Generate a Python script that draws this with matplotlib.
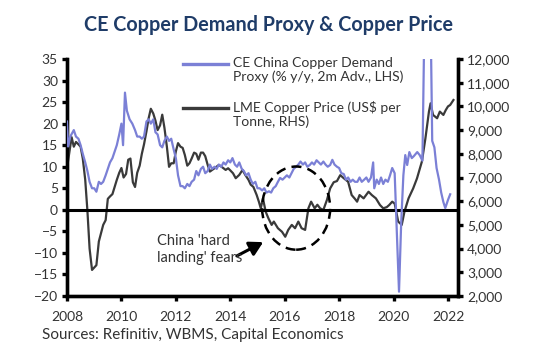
import matplotlib
matplotlib.use("Agg")
import matplotlib.pyplot as plt
from matplotlib.patches import Ellipse

# ---- data ----
demand_t = [2008.0, 2008.04, 2008.12, 2008.25, 2008.33, 2008.42, 2008.5, 2008.58, 2008.67, 2008.75,
            2008.83, 2008.92, 2009.0, 2009.08, 2009.17, 2009.25, 2009.33, 2009.42, 2009.5, 2009.58,
            2009.67, 2009.75, 2009.83, 2009.92, 2010.0, 2010.06, 2010.13, 2010.2, 2010.3, 2010.4,
            2010.5, 2010.58, 2010.67, 2010.75, 2010.83, 2010.92, 2011.0, 2011.08, 2011.17, 2011.25,
            2011.33, 2011.42, 2011.5, 2011.58, 2011.67, 2011.75, 2011.83, 2011.92, 2012.0, 2012.08,
            2012.17, 2012.25, 2012.33, 2012.42, 2012.5, 2012.58, 2012.67, 2012.75, 2012.83, 2012.92,
            2013.0, 2013.08, 2013.17, 2013.25, 2013.33, 2013.42, 2013.5, 2013.58, 2013.67, 2013.75,
            2013.83, 2013.92, 2014.0, 2014.08, 2014.17, 2014.25, 2014.33, 2014.42, 2014.5, 2014.58,
            2014.67, 2014.75, 2014.83, 2014.92, 2015.0, 2015.08, 2015.17, 2015.25, 2015.33, 2015.42,
            2015.5, 2015.58, 2015.67, 2015.75, 2015.83, 2015.92, 2016.0, 2016.08, 2016.17, 2016.25,
            2016.33, 2016.42, 2016.5, 2016.58, 2016.67, 2016.75, 2016.83, 2016.92, 2017.0, 2017.08,
            2017.17, 2017.25, 2017.33, 2017.42, 2017.5, 2017.58, 2017.67, 2017.75, 2017.83, 2017.92,
            2018.0, 2018.08, 2018.17, 2018.25, 2018.33, 2018.42, 2018.5, 2018.58, 2018.67, 2018.75,
            2018.83, 2018.92, 2019.0, 2019.08, 2019.17, 2019.25, 2019.29, 2019.38, 2019.46, 2019.54,
            2019.62, 2019.7, 2019.79, 2019.87, 2019.95, 2020.04, 2020.12, 2020.2, 2020.28, 2020.36,
            2020.43, 2020.5, 2020.58, 2020.67, 2020.75, 2020.87, 2020.96, 2021.06, 2021.17, 2021.25,
            2021.33, 2021.42, 2021.5, 2021.58, 2021.67, 2021.75, 2021.83, 2021.9, 2022.0, 2022.08]
demand_val = [20.5, 14.7, 17, 18.5, 17, 16.5, 15, 13, 11, 9,
              6.5, 5, 5, 4.2, 6.5, 6, 6.5, 8, 9.5, 11,
              12, 13.5, 15, 17.5, 20, 15, 27.2, 23, 21, 20,
              18.5, 17, 17, 16.5, 17, 20.5, 21, 20, 21, 18,
              17.5, 15, 14.5, 16, 17, 16, 16.5, 14, 12, 8,
              5.5, 5.5, 5, 6, 5.5, 6.5, 7, 9, 8, 9.5,
              10, 8.5, 9, 10.5, 9.5, 10, 9.5, 10.5, 10, 11,
              10.5, 11.5, 11, 12, 10.5, 10, 11, 9.5, 9, 8,
              8.5, 7, 6, 6.5, 5, 5, 4.5, 5, 4, 4.3,
              4, 5, 5.5, 6.5, 7.4, 7, 7.5, 8, 7.5, 8.5,
              9.5, 10, 10.5, 11.2, 10.5, 11, 10, 10.4, 11, 10.5,
              11.5, 11, 10.5, 11.2, 10.5, 10, 10.4, 11.6, 10.5, 10,
              9.7, 8.5, 8.3, 7, 7.5, 6.5, 7, 6.5, 6.5, 7.5,
              6.5, 7, 7.5, 6.5, 7.5, 11, 5, 7, 6, 7.5,
              6, 7, 6.5, 8, 9.7, 8.5, -5, -19, -3, 8,
              12.7, 10.4, 13.4, 12, 12.5, 13.4, 12.7, 11.4, 60, 50,
              60, 16, 14.5, 9.7, 7, 4, 1.8, 0.4, 2.3, 3.6]

price_t = [2008.0, 2008.08, 2008.17, 2008.25, 2008.33, 2008.42, 2008.5, 2008.58, 2008.67, 2008.75,
           2008.83, 2008.92, 2009.0, 2009.08, 2009.17, 2009.25, 2009.33, 2009.42, 2009.5, 2009.58,
           2009.67, 2009.75, 2009.83, 2009.92, 2010.0, 2010.08, 2010.17, 2010.25, 2010.33, 2010.42,
           2010.5, 2010.58, 2010.67, 2010.75, 2010.83, 2010.92, 2011.0, 2011.08, 2011.17, 2011.25,
           2011.33, 2011.42, 2011.5, 2011.58, 2011.67, 2011.75, 2011.83, 2011.92, 2012.0, 2012.08,
           2012.17, 2012.25, 2012.33, 2012.42, 2012.5, 2012.58, 2012.67, 2012.75, 2012.83, 2012.92,
           2013.0, 2013.08, 2013.17, 2013.25, 2013.42, 2013.58, 2013.67, 2013.83, 2013.92, 2014.0,
           2014.1, 2014.2, 2014.33, 2014.45, 2014.55, 2014.67, 2014.75, 2014.85, 2014.97, 2015.05,
           2015.12, 2015.2, 2015.3, 2015.4, 2015.52, 2015.6, 2015.75, 2015.9, 2016.02, 2016.13,
           2016.26, 2016.38, 2016.5, 2016.62, 2016.75, 2016.87, 2016.97, 2017.1, 2017.2, 2017.3,
           2017.42, 2017.55, 2017.67, 2017.8, 2017.92, 2018.04, 2018.17, 2018.33, 2018.46, 2018.58,
           2018.66, 2018.75, 2018.9, 2019.08, 2019.2, 2019.35, 2019.5, 2019.62, 2019.75, 2019.84,
           2019.95, 2020.04, 2020.17, 2020.3, 2020.4, 2020.55, 2020.72, 2020.86, 2021.04, 2021.17,
           2021.3, 2021.36, 2021.45, 2021.6, 2021.7, 2021.83, 2021.92, 2022.0, 2022.08, 2022.2]
price_val = [7400, 8000, 8700, 8300, 8500, 8400, 8300, 7800, 6900, 5600,
             4000, 3100, 3200, 3300, 4300, 4650, 5000, 5200, 6100, 6200,
             6300, 6600, 6900, 7200, 7400, 7000, 7150, 7750, 7800, 6800,
             6600, 7200, 7500, 8000, 8400, 8950, 9500, 9900, 9700, 9400,
             9000, 9200, 9650, 9100, 8300, 7450, 7600, 7600, 8100, 8450,
             8300, 8250, 7950, 7500, 7600, 7800, 8050, 8000, 7750, 8050,
             8050, 7900, 7530, 7250, 7390, 7530, 7460, 7320, 7390, 7300,
             7180, 6970, 7110, 7320, 7110, 6900, 6700, 6600, 6260, 5980,
             5700, 6120, 5560, 5280, 5000, 5140, 4860, 4710, 4500, 4790,
             5000, 4860, 5140, 4860, 4790, 5700, 5980, 5700, 5850, 5700,
             5630, 6050, 6540, 6800, 6850, 7100, 6970, 6820, 6260, 6100,
             5980, 6260, 6120, 6400, 6260, 6120, 5840, 5700, 5750, 5840,
             5980, 5900, 5140, 5000, 5560, 6120, 6540, 6960, 7670, 8650,
             9780, 10130, 9640, 9500, 9780, 9640, 9850, 10000, 10060, 10270]

left_ticks = [35, 30, 25, 20, 15, 10, 5, 0, -5, -10, -15, -20]
right_ticks = [12000, 11000, 10000, 9000, 8000, 7000, 6000, 5000, 4000, 3000, 2000]
year_ticks = [2008, 2010, 2012, 2014, 2016, 2018, 2020, 2022]

title = "CE Copper Demand Proxy & Copper Price"
label_demand = "CE China Copper Demand\nProxy (% y/y, 2m Adv., LHS)"
label_price = "LME Copper Price (US$ per\nTonne, RHS)"
annotation = "China 'hard\nlanding' fears"
source = "Sources: Refinitiv, WBMS, Capital Economics"

# ---- style ----
plt.rcParams['font.family'] = ['Lato', 'DejaVu Sans']
TXT = '#333333'
BLUE = '#7b80d6'
DARK = '#3a3a3a'

W, H = 537, 353
fig = plt.figure(figsize=(W / 100, H / 100), dpi=100)
L, R, T, B = 67, 458, 59, 296
ax = fig.add_axes([L / W, 1 - B / H, (R - L) / W, (B - T) / H])
ax2 = ax.twinx()

ax.plot(demand_t, demand_val, color=BLUE, lw=1.6, zorder=3)
ax2.plot(price_t, price_val, color=DARK, lw=1.6, zorder=4)
ax.axhline(0, color='black', lw=2.2, zorder=2)

ax.set_xlim(2008, 2008 + (R - L) / ((448 - 67) / 14))
ax.set_ylim(-20, 35)
ax2.set_ylim(2000, 12000)
ax.set_yticks(left_ticks)
ax2.set_yticks(right_ticks)
ax2.set_yticklabels([f"{v:,}" for v in right_ticks])
ax.set_xticks(year_ticks)

for a in (ax, ax2):
    a.spines['top'].set_visible(False)
    for s in ('left', 'right', 'bottom'):
        a.spines[s].set_linewidth(2.4)
        a.spines[s].set_color('black')
    a.tick_params(axis='both', direction='out', length=3.5, width=2.4, colors='black',
                  labelcolor=TXT, labelsize=10, pad=3)
ax.tick_params(axis='x', pad=7)
ax.set_zorder(ax2.get_zorder() + 1)
ax.patch.set_visible(False)

# legend drawn manually
x0, x1 = 183 / W, 228 / W
for yy, col, lab in ((64, BLUE, label_demand), (108, DARK, label_price)):
    fig.add_artist(plt.Line2D([x0, x1], [1 - yy / H, 1 - yy / H], color=col, lw=2.4,
                              transform=fig.transFigure))
    fig.text(233 / W, 1 - (yy - 7) / H, lab, ha='left', va='top', fontsize=10,
             color=TXT, linespacing=1.15)

# ellipse and annotation
ell = Ellipse((2016.42, 0.4), 2.5, 19.3, fill=False, ls=(0, (4, 2.5)), lw=1.8,
              color='black', zorder=5)
ax.add_patch(ell)
ax.annotate('', xy=(2015.3, -7.2), xytext=(2014.15, -11.0),
            arrowprops=dict(arrowstyle='-|>,head_length=0.8,head_width=0.45', lw=2.2,
                            color='black'))
ax.text(2011.32, -5.7, annotation, ha='left', va='top', fontsize=10.5, color=TXT,
        linespacing=1.2)

fig.text(0.5, 1 - 25 / H, title, ha='center', va='center', fontsize=14.2,
         fontweight='bold', color='#1f3c68')
fig.text(42 / W, 1 - 335 / H, source, ha='left', va='center', fontsize=11, color=TXT)

fig.savefig('out.png', dpi=100)
